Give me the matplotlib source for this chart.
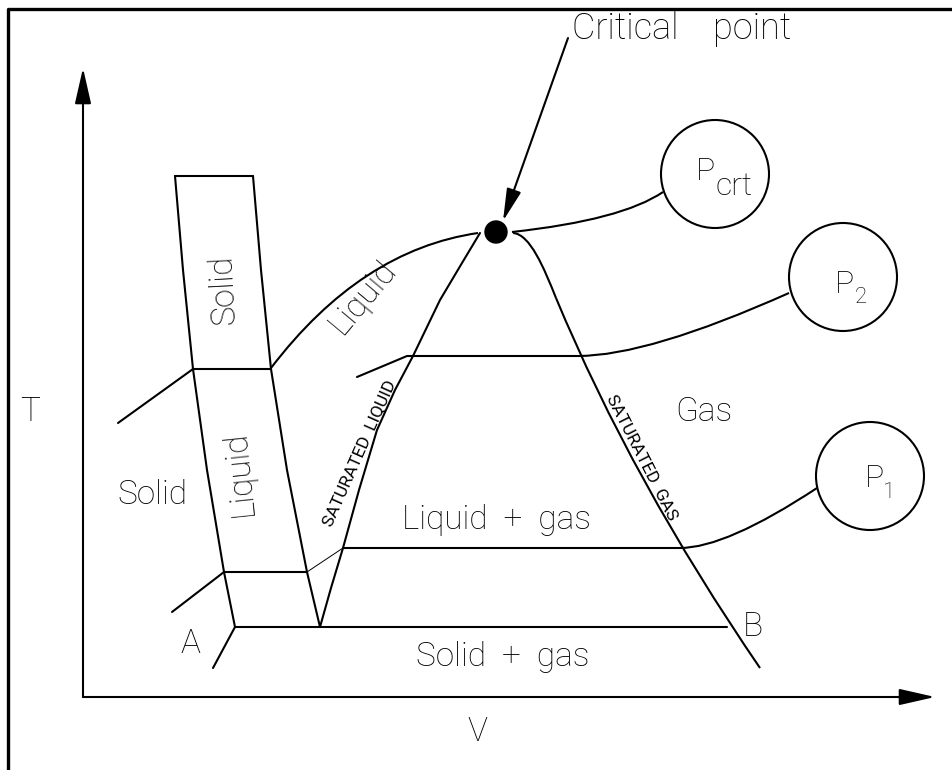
import matplotlib
matplotlib.use('Agg')
import matplotlib.pyplot as plt
from matplotlib.patches import Circle, PathPatch
from matplotlib.path import Path

plt.rcParams['font.family'] = ['Roboto', 'DejaVu Sans']
FONT = dict(fontweight='light', color='black')

# all shapes are in picture pixels: x to the right, y downwards
band_left_x = [175, 183, 193, 207, 224, 235]
band_left_y = [176, 270, 369, 470, 572, 627]
band_right_x = [253, 261, 271, 287, 307, 320]
band_right_y = [176, 270, 369, 470, 572, 627]

sat_liquid_x = [320, 331, 343, 359, 377, 395, 413, 440, 462, 480]
sat_liquid_y = [627, 588, 548, 490, 430, 390, 356, 300, 263, 233]

# gas line: rounded top (cubic) and a long gentle bend (quadratic)
sat_gas_top = [(513, 233), (530, 234), (544, 268), (556, 298)]
sat_gas_low = [(556, 298), (632, 481), (760, 668)]

# isobar bends as (start, control, end)
pcrt_left = [(271, 368), (361, 250), (478, 233)]
pcrt_right = [(512, 232), (622, 220), (663, 192)]
p2_bend = [(578, 356), (648, 356), (789, 293)]
p1_bend = [(680, 548), (726, 548), (817, 488)]

p2_x = [357, 407, 578]
p2_y = [377, 356, 356]
p1_x = [343, 680]
p1_y = [548, 548]
p1_thin_x = [307, 343]
p1_thin_y = [572, 548]

# straight pieces: (x0, y0, x1, y1)
segments = [
    (175, 176, 253, 176),
    (193, 369, 271, 369),
    (224, 572, 307, 572),
    (235, 627, 727, 627),
    (193, 369, 118, 423),
    (224, 572, 172, 612),
    (235, 627, 213, 668),
]

frame_x = [8, 8, 953]
frame_y = [770, 9, 9]

axis_origin = (83, 697)
axis_y_tip = (83, 68)
axis_x_tip = (935, 697)

crit_point = (496, 232)
crit_label_from = (568, 38)
crit_label_to = (503, 221)

bubbles = {'Pcrt': (715, 174), 'P2': (843, 277), 'P1': (870, 476)}
bubble_r = 54

# (text, x, y, size, rotation)
labels = [
    ('Solid', 224, 290, 24, 93),
    ('Liquid', 239, 473, 24, 96),
    ('Liquid', 363, 297, 24, 50),
    ('Solid', 152, 495, 24, 0),
    ('Gas', 704, 412, 24, 0),
    ('Liquid  +  gas', 497, 520, 24, 0),
    ('Solid  +  gas', 503, 657, 24, 0),
    ('A', 190, 644, 24, 0),
    ('B', 753, 627, 24, 0),
    ('T', 30, 412, 24, 0),
    ('V', 477, 732, 24, 0),
]

# small labels along the saturation lines
side_labels = [
    ('SATURATED  LIQUID', 359, 453, 12.5, 66),
    ('SATURATED  GAS', 641, 458, 12.5, -63),
]

# (main, sub, x, baseline, sub x, sub baseline, sub size)
pressure_tags = [
    ('P', 'crt', 696, 180, 716, 195, 23),
    ('P', '2', 835, 293, 855, 303, 16),
    ('P', '1', 865, 487, 883, 498, 16),
]


def bend(ax, pts, **kw):
    step = Path.CURVE3 if len(pts) == 3 else Path.CURVE4
    path = Path(pts, [Path.MOVETO] + [step] * (len(pts) - 1))
    ax.add_patch(PathPatch(path, fill=False, **kw))


fig = plt.figure(figsize=(9.53, 7.70), dpi=100)
ax = fig.add_axes([0, 0, 1, 1])
ax.set_xlim(0, 953)
ax.set_ylim(770, 0)
ax.axis('off')

line = dict(color='black', lw=1.5, solid_capstyle='round')
ax.plot(frame_x, frame_y, color='black', lw=2.4)
ax.plot(band_left_x, band_left_y, **line)
ax.plot(band_right_x, band_right_y, **line)
ax.plot(sat_liquid_x, sat_liquid_y, **line)
ax.plot(p2_x, p2_y, **line)
ax.plot(p1_x, p1_y, **line)
ax.plot(p1_thin_x, p1_thin_y, color='black', lw=0.7)
for x0, y0, x1, y1 in segments:
    ax.plot([x0, x1], [y0, y1], **line)
for pts in [sat_gas_top, sat_gas_low, pcrt_left, pcrt_right, p2_bend, p1_bend]:
    bend(ax, pts, ec='black', lw=1.5)

axis_arrow = dict(arrowstyle='-|>,head_length=1.1,head_width=0.25',
                  color='black', lw=1.5, mutation_scale=20, shrinkA=0, shrinkB=0)
ax.annotate('', xy=axis_y_tip, xytext=axis_origin, arrowprops=axis_arrow)
ax.annotate('', xy=axis_x_tip, xytext=axis_origin, arrowprops=axis_arrow)

ax.add_patch(Circle(crit_point, 11, color='black', zorder=5))
ax.annotate('', xy=crit_label_to, xytext=crit_label_from,
            arrowprops=dict(arrowstyle='-|>,head_length=1.1,head_width=0.25',
                            color='black', lw=1.5, mutation_scale=18,
                            shrinkA=0, shrinkB=0))
ax.text(572, 29, 'Critical    point', fontsize=26, ha='left', va='center', **FONT)

for name, (cx, cy) in bubbles.items():
    ax.add_patch(Circle((cx, cy), bubble_r, fill=False, ec='black', lw=1.5))

for main, sub, x, y, sx, sy, ss in pressure_tags:
    ax.text(x, y, main, fontsize=23, ha='left', va='baseline', **FONT)
    ax.text(sx, sy, sub, fontsize=ss, ha='left', va='baseline', **FONT)

for txt, x, y, size, rot in labels:
    ax.text(x, y, txt, fontsize=size, rotation=rot, ha='center', va='center',
            rotation_mode='anchor', **FONT)
for txt, x, y, size, rot in side_labels:
    ax.text(x, y, txt, fontsize=size, rotation=rot, ha='center', va='center',
            rotation_mode='anchor', color='black')

fig.savefig('out.png', dpi=100)
